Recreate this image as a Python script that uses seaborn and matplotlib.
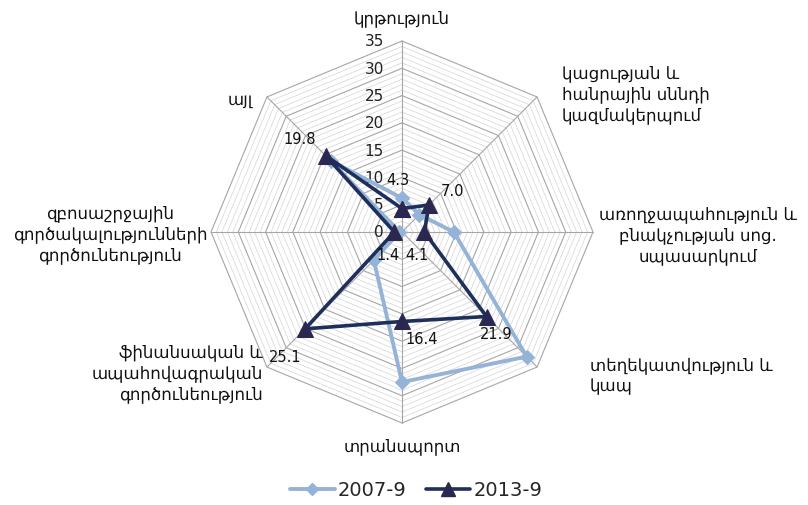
import numpy as np
import pandas as pd
import matplotlib
matplotlib.use('Agg')
import matplotlib.pyplot as plt
from matplotlib.lines import Line2D
import seaborn as sns

# ── data ──────────────────────────────────────────────────────────────
categories = ['կրթություն', 'կացության և\nհանրային սննդի\nկազմակերպում',
              'առողջապահություն և\nբնակչության սոց.\nսպասարկում',
              'տեղեկատվություն և\nկապ', 'տրանսպորտ',
              'ֆինանսական և\nապահովագրական\nգործունեություն',
              'զբոսաշրջային\nգործակալությունների\nգործունեություն', 'այլ']
vals_2007 = [6.2, 4.5, 9.5, 32.3, 27.5, 7.3, 0.5, 18.5]
vals_2013 = [4.3, 7.0, 4.1, 21.9, 16.4, 25.1, 1.4, 19.8]
series_names = ['2007-9', '2013-9']
r_ticks = [0, 5, 10, 15, 20, 25, 30, 35]
r_max = 35

sns.set_style('white')
plt.rcParams['font.family'] = ['DejaVu Sans']

W, H = 808, 506
cx, cy = 402, 273          # centre in px from bottom-left
s = 191 / r_max            # px per unit

fig = plt.figure(figsize=(W / 100, H / 100), dpi=100)
ax = fig.add_axes([0, 0, 1, 1])
ax.set_xlim(-cx / s, (W - cx) / s)
ax.set_ylim(-cy / s, (H - cy) / s)
ax.axis('off')

n = len(categories)
ang = np.pi / 2 - np.arange(n) * 2 * np.pi / n
ang_c = np.append(ang, ang[0])

# polygon grid: thin ring every unit, darker every 5
for r in range(1, r_max + 1):
    major = r % 5 == 0
    ax.plot(r * np.cos(ang_c), r * np.sin(ang_c),
            color='#a6a6a6' if major else '#d4d4d4',
            lw=0.8 if major else 0.5, zorder=1)
for a in ang:
    ax.plot([0, r_max * np.cos(a)], [0, r_max * np.sin(a)],
            color='#a6a6a6', lw=0.8, zorder=1)

for t in r_ticks:
    ax.text(-3.3, t, str(t), ha='right', va='center', fontsize=11, color='#222222')


def polygon_df(vals, name):
    v = np.append(vals, vals[0])
    return pd.DataFrame({'x': v * np.cos(ang_c), 'y': v * np.sin(ang_c),
                         'series': name, 'order': np.arange(len(v))})


light, dark = '#95b3d7', '#1f2f5c'
df07 = polygon_df(np.array(vals_2007), series_names[0])
df13 = polygon_df(np.array(vals_2013), series_names[1])
sns.lineplot(data=df07, x='x', y='y', sort=False, estimator=None, color=light,
             lw=2.8, marker='D', markersize=7, markeredgecolor=light,
             legend=False, ax=ax, zorder=3)
sns.lineplot(data=df13, x='x', y='y', sort=False, estimator=None, color=dark,
             lw=2.6, marker='^', markersize=11, markeredgecolor='#2a2850',
             markerfacecolor='#2a2850', legend=False, ax=ax, zorder=4)
ax.set_xlabel('')
ax.set_ylabel('')

# value labels for 2013-9 (offsets in px)
label_off = [(-4, 29), (23, 14), (-7, -23), (10, -17), (20, -17), (-20, -28), (-6, -23), (-26, 17)]
for v, a, (dx, dy) in zip(vals_2013, ang, label_off):
    ax.annotate(f'{v:.1f}', (v * np.cos(a), v * np.sin(a)), xytext=(dx * 0.72, dy * 0.72),
                textcoords='offset points', ha='center', va='center', fontsize=10.5,
                color='#111111', zorder=5)

# category labels (px from top-left)
cat_pos = [(402, 18, 'center'), (562, 94, 'left'), (698, 235, 'center'),
           (590, 376, 'left'), (402, 446, 'center'), (263, 373, 'right'),
           (110, 234, 'center'), (240, 100, 'center')]
for lab, (px, py, ha) in zip(categories, cat_pos):
    fig.text(px / W, 1 - py / H, lab, ha=ha, va='center', multialignment=ha,
             fontsize=12, color='#111111', linespacing=1.2)

handles = [Line2D([], [], color=light, lw=2.8, marker='D', markersize=6),
           Line2D([], [], color=dark, lw=2.6, marker='^', markersize=10,
                  markerfacecolor='#2a2850', markeredgecolor='#2a2850')]
fig.legend(handles, series_names, loc='center', bbox_to_anchor=(416 / W, 1 - 491 / H),
           ncol=2, frameon=False, fontsize=14, handlelength=2.3,
           handletextpad=0.15, columnspacing=1.0)

plt.savefig('out.png', dpi=100)
plt.close(fig)
